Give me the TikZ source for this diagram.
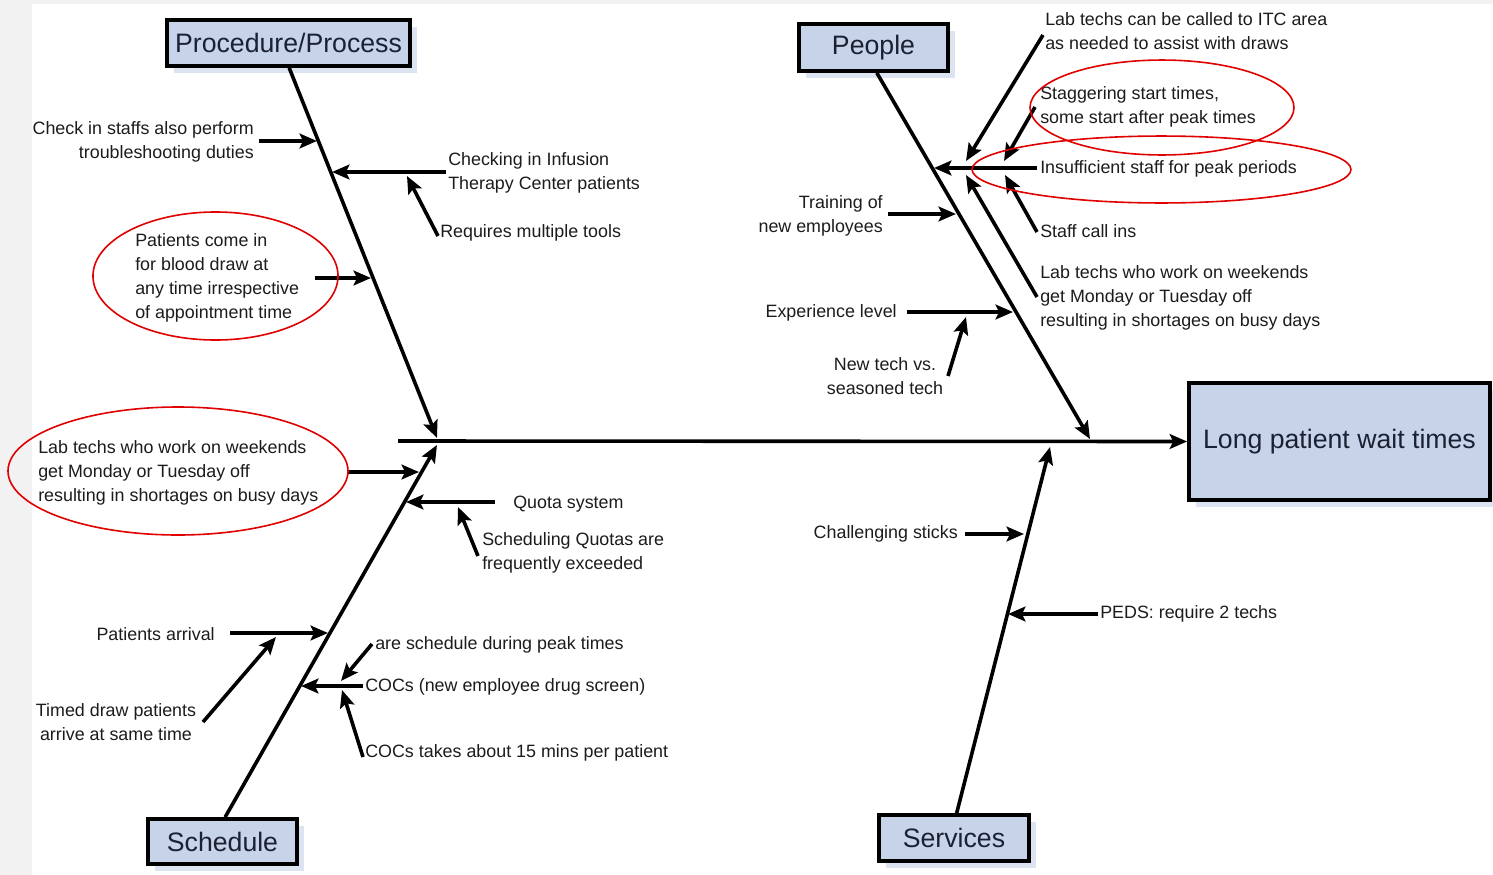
\documentclass[tikz,border=0pt]{standalone}
\usepackage{fontspec}
\setmainfont{Liberation Sans}
\usetikzlibrary{arrows.meta,shadows}
\definecolor{boxblue}{HTML}{C7D3E9}
\definecolor{shadowblue}{HTML}{DDE4F1}
\definecolor{ink}{HTML}{1C1C1C}
\definecolor{titleink}{HTML}{1A2133}
\definecolor{ovalred}{HTML}{E00000}
\definecolor{bggrey}{HTML}{F2F2F2}
\tikzset{
  cat/.style={draw=black, line width=2.8pt, fill=boxblue, inner sep=0pt,
    font=\fontsize{20}{24}\selectfont, text=titleink,
    drop shadow={shadow xshift=5pt, shadow yshift=-5pt, fill=shadowblue, opacity=1}},
  lbl/.style={inner sep=0pt, yshift=-1.5pt, font=\fontsize{13.4}{18}\selectfont, text=ink},
  bone/.style={line width=2.7pt, -{Stealth[length=13pt,width=11pt,inset=2.5pt]}},
  arr/.style={line width=2.7pt, -{Stealth[length=13pt,width=11pt,inset=2.5pt]}},
  oval/.style={draw=ovalred, line width=1.2pt},
}
\begin{document}
\begin{tikzpicture}[x=0.75pt,y=-0.75pt]
\useasboundingbox (0,0) rectangle (1493,875);
\fill[bggrey] (0,0) rectangle (1493,875);
\fill[white] (32,4) rectangle (1493,875);

% boxes
\node[cat, minimum width=182.25pt, minimum height=34.5pt] (proc) at (288.5,43) {Procedure/Process};
\node[cat, minimum width=111.75pt, minimum height=35.25pt] (people) at (873.5,47.5) {People};
\node[cat, minimum width=111.75pt, minimum height=33.75pt] (sched) at (222.5,841.5) {Schedule};
\node[cat, minimum width=112.5pt, minimum height=34.5pt] (serv) at (954,838) {Services};
\node[cat, minimum width=225.75pt, minimum height=87.75pt] (effect) at (1339.5,441.5) {Long patient wait times};

% spine and bones
\coordinate (spineS) at (398,441);
\coordinate (procT) at (437,438);
\coordinate (peopleT) at (1090,439);
\coordinate (schedT) at (437,445);
\coordinate (servT) at (1050,447);
\draw[bone] (spineS) -- (effect.west);
\draw[bone] ([xshift=0.5pt]proc.south) -- (procT);
\draw[bone] ([xshift=2.5pt]people.south) -- (peopleT);
\draw[bone] ([xshift=2pt]sched.north) -- (schedT);
\draw[bone] ([xshift=2pt]serv.north) -- (servT);

% labels: procedure
\node[lbl, anchor=east, align=right] (checkin) at (254,140) {Check in staffs also perform\\troubleshooting duties};
\node[lbl, anchor=west, align=left] (infusion) at (448,171) {Checking in Infusion\\Therapy Center patients};
\node[lbl, anchor=west] (tools) at (440,231) {Requires multiple tools};
\node[lbl, anchor=west, align=left] (blood) at (135,276) {Patients come in\\for blood draw at\\any time irrespective\\of appointment time};
% schedule
\node[lbl, anchor=west, align=left] (wkL) at (38,471) {Lab techs who work on weekends\\get Monday or Tuesday off\\resulting in shortages on busy days};
\node[lbl, anchor=west] (quota) at (513,502) {Quota system};
\node[lbl, anchor=west, align=left] (schedq) at (482,551) {Scheduling Quotas are\\frequently exceeded};
\node[lbl, anchor=east] (arrival) at (215,632) {Patients arrival};
\node[lbl, align=center] (timed) at (116,720) {Timed draw patients\\arrive at same time};
\node[lbl, anchor=west] (peak) at (375,643) {are schedule during peak times};
\node[lbl, anchor=west] (cocs) at (365,685) {COCs (new employee drug screen)};
\node[lbl, anchor=west] (cocs15) at (365,751) {COCs takes about 15 mins per patient};
% people
\node[lbl, anchor=west, align=left] (itc) at (1045,29) {Lab techs can be called to ITC area\\as needed to assist with draws};
\node[lbl, anchor=west, align=left] (stagger) at (1040,105) {Staggering start times,\\some start after peak times};
\node[lbl, anchor=west] (insuff) at (1040,167) {Insufficient staff for peak periods};
\node[lbl, anchor=west] (callins) at (1040,229) {Staff call ins};
\node[lbl, anchor=west, align=left] (wkR) at (1040,296) {Lab techs who work on weekends\\get Monday or Tuesday off\\resulting in shortages on busy days};
\node[lbl, anchor=east, align=right] (training) at (883,214) {Training of\\new employees};
\node[lbl, anchor=east] (exper) at (897,311) {Experience level};
\node[lbl, align=center] (newtech) at (885,374) {New tech vs.\\seasoned tech};
% services
\node[lbl, anchor=east] (chall) at (958,532) {Challenging sticks};
\node[lbl, anchor=west] (peds) at (1100,612) {PEDS: require 2 techs};

% connector end points
\coordinate (p1s) at (259,141); \coordinate (p1t) at (317,141);
\coordinate (p2s) at (446,172); \coordinate (p2t) at (332,172);
\coordinate (p2as) at (438,236); \coordinate (p2at) at (407,176);
\coordinate (p3s) at (315,278); \coordinate (p3t) at (371,278);
\coordinate (s1s) at (348,472); \coordinate (s1t) at (419,472);
\coordinate (s2s) at (495,502); \coordinate (s2t) at (406,502);
\coordinate (s2as) at (478,556); \coordinate (s2at) at (458,507);
\coordinate (s3s) at (230,633); \coordinate (s3t) at (328,633);
\coordinate (s3as) at (203,722); \coordinate (s3at) at (276,637);
\coordinate (s4s) at (363,686); \coordinate (s4t) at (301,686);
\coordinate (s4as) at (372,644); \coordinate (s4at) at (341,681);
\coordinate (s4bs) at (363,757); \coordinate (s4bt) at (342,690);
\coordinate (e1s) at (1037,168); \coordinate (e1t) at (934,168);
\coordinate (e1as) at (1043,35); \coordinate (e1at) at (966,161);
\coordinate (e1bs) at (1035,107); \coordinate (e1bt) at (1004,161);
\coordinate (e1cs) at (1037,232); \coordinate (e1ct) at (1005,175);
\coordinate (e1ds) at (1037,297); \coordinate (e1dt) at (966,175);
\coordinate (e2s) at (888,214); \coordinate (e2t) at (956,214);
\coordinate (e3s) at (907,312); \coordinate (e3t) at (1013,312);
\coordinate (e3as) at (948,376); \coordinate (e3at) at (966,317);
\coordinate (v1s) at (965,534); \coordinate (v1t) at (1024,534);
\coordinate (v2s) at (1098,614); \coordinate (v2t) at (1008,614);

\draw[arr] (p1s) -- (p1t);
\draw[arr] (p2s) -- (p2t);
\draw[arr] (p2as) -- (p2at);
\draw[arr] (p3s) -- (p3t);
\draw[arr] (s1s) -- (s1t);
\draw[arr] (s2s) -- (s2t);
\draw[arr] (s2as) -- (s2at);
\draw[arr] (s3s) -- (s3t);
\draw[arr] (s3as) -- (s3at);
\draw[arr] (s4s) -- (s4t);
\draw[arr] (s4as) -- (s4at);
\draw[arr] (s4bs) -- (s4bt);
\draw[arr] (e1s) -- (e1t);
\draw[arr] (e1as) -- (e1at);
\draw[arr] (e1bs) -- (e1bt);
\draw[arr] (e1cs) -- (e1ct);
\draw[arr] (e1ds) -- (e1dt);
\draw[arr] (e2s) -- (e2t);
\draw[arr] (e3s) -- (e3t);
\draw[arr] (e3as) -- (e3at);
\draw[arr] (v1s) -- (v1t);
\draw[arr] (v2s) -- (v2t);

% red highlight ovals
\draw[oval] (215.5,276) ellipse [x radius=91.9pt, y radius=48pt];
\draw[oval] (178,471) ellipse [x radius=127.5pt, y radius=48pt];
\draw[oval] (1162,107.5) ellipse [x radius=99pt, y radius=35.6pt];
\draw[oval] (1161.5,169.5) ellipse [x radius=142.1pt, y radius=25.1pt];
\end{tikzpicture}
\end{document}
